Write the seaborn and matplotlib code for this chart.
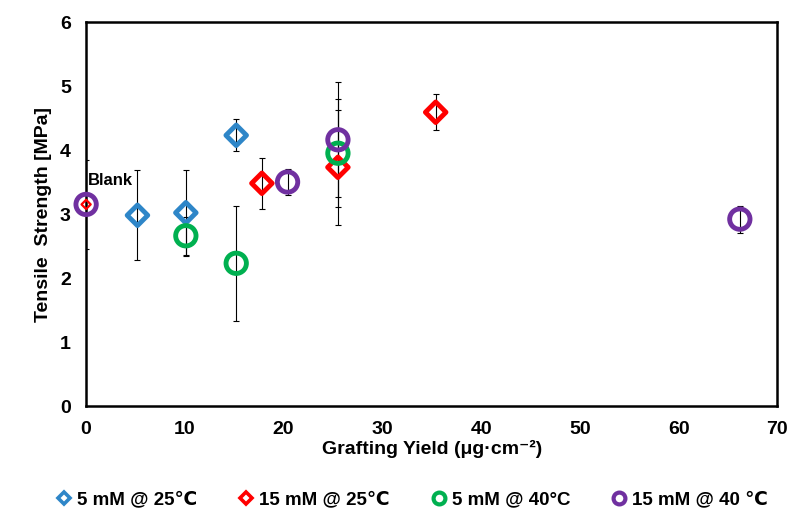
import matplotlib
matplotlib.use("Agg")
import matplotlib.pyplot as plt
from matplotlib.lines import Line2D
import seaborn as sns

# ── Data ─────────────────────────────────────────────────────────────────────
blank_x = [0.0]
blank_y = [3.15]
blank_err = [0.70]

blue_x = [5.2, 10.1, 15.2]
blue_y = [2.98, 3.02, 4.23]
blue_err = [0.70, 0.67, 0.25]

red_x = [17.8, 25.5, 35.4]
red_y = [3.48, 3.73, 4.59]
red_err = [0.40, 0.90, 0.28]

green_x = [10.1, 15.2, 25.5]
green_y = [2.66, 2.23, 3.95]
green_err = [0.30, 0.90, 0.84]

purple_x = [20.4, 25.5, 66.2]
purple_y = [3.50, 4.16, 2.92]
purple_err = [0.20, 0.90, 0.21]

labels = ["5 mM @ 25\u2103", "15 mM @ 25\u2103", "5 mM @ 40°C", "15 mM @ 40 \u2103"]
x_ticks = [0, 10, 20, 30, 40, 50, 60, 70]
y_ticks = [0, 1, 2, 3, 4, 5, 6]

# ── Style ───────────────────────────────────────────────────────────────────
sns.set_style("white")
plt.rcParams["font.family"] = ["Liberation Sans", "DejaVu Sans"]
plt.rcParams["font.weight"] = "bold"
plt.rcParams["text.color"] = "black"
plt.rcParams["axes.labelcolor"] = "black"
plt.rcParams["xtick.color"] = "black"
plt.rcParams["ytick.color"] = "black"

BLUE = "#2E86C8"
RED = "#FF0000"
GREEN = "#00B050"
PURPLE = "#7030A0"

fig = plt.figure(figsize=(7.9, 5.12), dpi=100)
ax = fig.add_axes([0.109, 0.207, 0.875, 0.750])

series = [
    (blue_x, blue_y, blue_err, BLUE, "D", 110),
    (red_x, red_y, red_err, RED, "D", 110),
    (green_x, green_y, green_err, GREEN, "o", 215),
    (purple_x, purple_y, purple_err, PURPLE, "o", 215),
]

# error bars first so the hollow markers sit on top
ax.errorbar(blank_x, blank_y, yerr=blank_err, fmt="none", ecolor="black",
            elinewidth=0.8, capsize=2.5, capthick=0.8, zorder=2)
for xs, ys, es, col, mk, sz in series:
    ax.errorbar(xs, ys, yerr=es, fmt="none", ecolor="black",
                elinewidth=0.8, capsize=2.5, capthick=0.8, zorder=2)

for xs, ys, es, col, mk, sz in series:
    sns.scatterplot(x=xs, y=ys, marker=mk, s=sz, facecolor="none",
                    edgecolor=col, linewidth=3.5, ax=ax, zorder=3)

# blank sample: small red diamond inside a purple ring
sns.scatterplot(x=blank_x, y=blank_y, marker="D", s=22, facecolor="none",
                edgecolor=RED, linewidth=1.6, ax=ax, zorder=4)
sns.scatterplot(x=blank_x, y=blank_y, marker="o", s=215, facecolor="none",
                edgecolor=PURPLE, linewidth=3.5, ax=ax, zorder=5)
ax.text(0.15, 3.52, "Blank", fontsize=12, fontweight="bold", ha="left",
        va="center", zorder=6)

ax.set_xlim(0, 70)
ax.set_ylim(0, 6)
ax.set_xticks(x_ticks)
ax.set_yticks(y_ticks)
ax.tick_params(axis="both", direction="out", length=5, width=1.5,
               labelsize=14, pad=6)
for lab in ax.get_xticklabels() + ax.get_yticklabels():
    lab.set_fontweight("bold")
for sp in ax.spines.values():
    sp.set_linewidth(1.8)
    sp.set_color("black")
for coll in ax.collections:
    coll.set_clip_on(False)

ax.set_xlabel("Grafting Yield (\u03bcg\u00b7cm\u207b\u00b2)", fontsize=14,
              fontweight="bold", labelpad=1)
ax.set_ylabel("Tensile  Strength [MPa]", fontsize=14, fontweight="bold",
              labelpad=6)

handles = [
    Line2D([], [], ls="none", marker="D", ms=6, mfc="white", mec=BLUE, mew=2.6),
    Line2D([], [], ls="none", marker="D", ms=6, mfc="white", mec=RED, mew=2.6),
    Line2D([], [], ls="none", marker="o", ms=8.5, mfc="white", mec=GREEN, mew=3),
    Line2D([], [], ls="none", marker="o", ms=8.5, mfc="white", mec=PURPLE, mew=3),
]
fig.legend(handles, labels, loc="center", bbox_to_anchor=(0.522, 0.024),
           ncol=4, frameon=False, handlelength=0.8, handletextpad=0.3,
           columnspacing=2.2, prop={"size": 13.5, "weight": "bold"})

fig.savefig("out.png", dpi=100)
plt.close(fig)
